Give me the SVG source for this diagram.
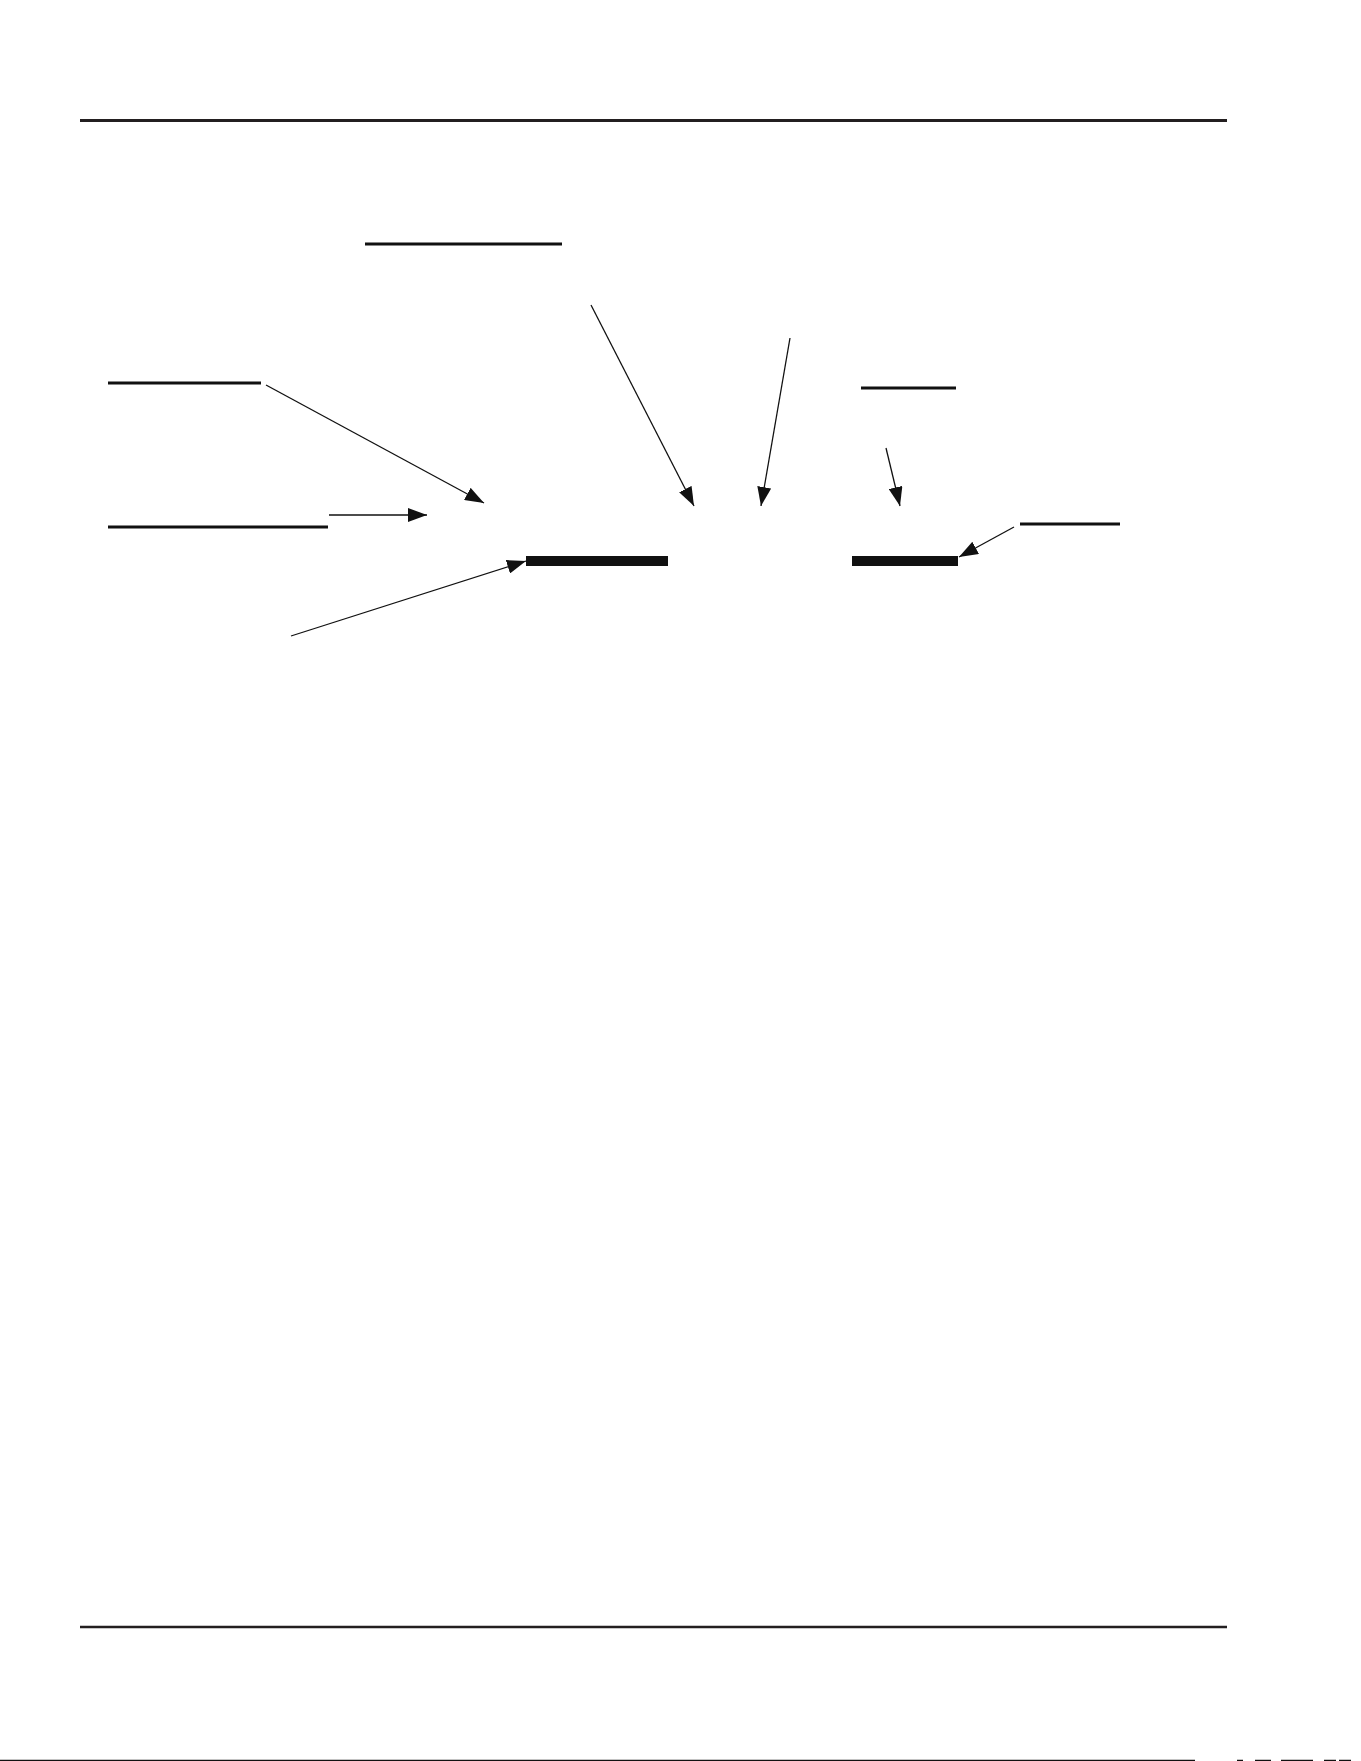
<svg xmlns="http://www.w3.org/2000/svg" width="1361" height="1761" viewBox="0 0 1361 1761">
<style>
.rule{stroke:#231f20;stroke-width:3;fill:none}
.ul{stroke:#111;stroke-width:3;fill:none}
.bar{fill:#111}
.conn{stroke:#111;stroke-width:1.3;fill:none;marker-end:url(#ah)}
.bit{stroke:#111;stroke-width:1.5}
</style>
<defs>
<marker id="ah" markerUnits="userSpaceOnUse" markerWidth="20" markerHeight="14" refX="19" refY="7" orient="auto">
<path d="M0,0 L19,7 L0,14 z" fill="#111"/>
</marker>
</defs>
<rect width="1361" height="1761" fill="#fff"/>
<g id="page">
<line class="rule" x1="80" y1="120.5" x2="1227" y2="120.5"/>
<line class="rule" x1="80" y1="1627" x2="1227" y2="1627" style="stroke-width:2.5"/>
<line x1="0" y1="1760.5" x2="1195" y2="1760.5" stroke="#111" stroke-width="1.5"/>
<line class="bit" x1="1237" y1="1760.5" x2="1243" y2="1760.5"/>
<line class="bit" x1="1255" y1="1760.5" x2="1271" y2="1760.5"/>
<line class="bit" x1="1281" y1="1760.5" x2="1313" y2="1760.5"/>
<line class="bit" x1="1324" y1="1760.5" x2="1336" y2="1760.5"/>
<line class="bit" x1="1339" y1="1760.5" x2="1351" y2="1760.5"/>
</g>
<g id="label-top"><line class="ul" x1="365" y1="244" x2="562" y2="244"/></g>
<g id="label-left1"><line class="ul" x1="108" y1="383" x2="261" y2="383"/></g>
<g id="label-left2"><line class="ul" x1="108" y1="527" x2="328" y2="527"/></g>
<g id="label-right1"><line class="ul" x1="861" y1="388" x2="956" y2="388"/></g>
<g id="label-right2"><line class="ul" x1="1020" y1="524" x2="1120" y2="524"/></g>
<g id="bar1"><rect class="bar" x="526" y="556" width="142" height="10"/></g>
<g id="bar2"><rect class="bar" x="852" y="556" width="106" height="10"/></g>
<g id="connectors">
<line class="conn" x1="266" y1="385" x2="484" y2="503"/>
<line class="conn" x1="329" y1="515" x2="427" y2="515"/>
<line class="conn" x1="291" y1="636" x2="526" y2="561"/>
<line class="conn" x1="591" y1="305" x2="694" y2="506"/>
<line class="conn" x1="790" y1="338" x2="761" y2="506"/>
<line class="conn" x1="886" y1="448" x2="900" y2="506"/>
<line class="conn" x1="1014" y1="527" x2="959" y2="557"/>
</g>
</svg>
